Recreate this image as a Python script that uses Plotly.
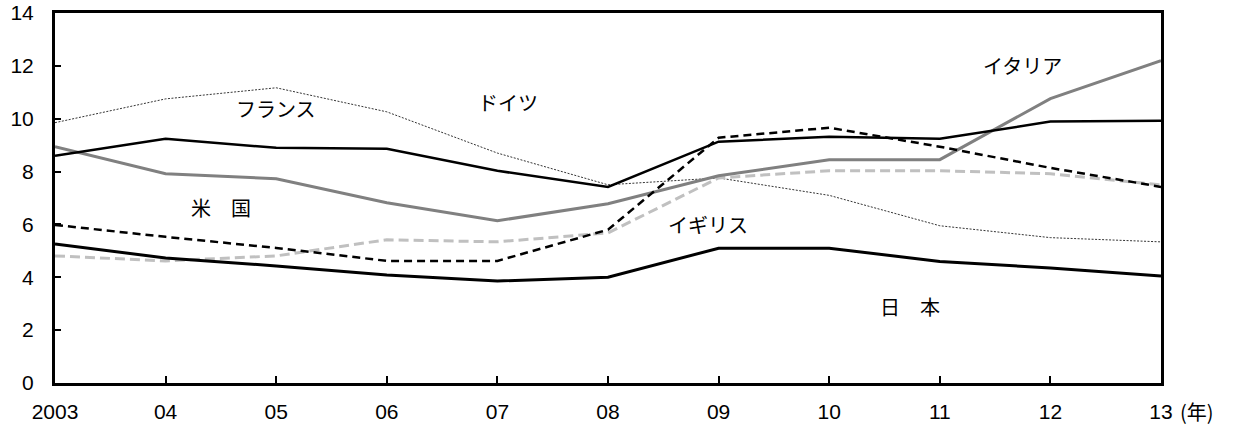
import plotly.graph_objects as go

years = [2003, 2004, 2005, 2006, 2007, 2008, 2009, 2010, 2011, 2012, 2013]
tick_labels = ["2003", "04", "05", "06", "07", "08", "09", "10", "11", "12", "13"]

germany = [9.85, 10.75, 11.17, 10.26, 8.7, 7.5, 7.76, 7.1, 5.95, 5.5, 5.34]
france = [8.6, 9.24, 8.9, 8.86, 8.03, 7.42, 9.13, 9.32, 9.24, 9.89, 9.92]
italy = [8.94, 7.92, 7.73, 6.82, 6.14, 6.78, 7.84, 8.45, 8.45, 10.76, 12.2]
us = [5.98, 5.53, 5.11, 4.62, 4.62, 5.8, 9.28, 9.66, 8.94, 8.14, 7.42]
uk = [4.81, 4.62, 4.81, 5.42, 5.34, 5.68, 7.76, 8.03, 8.03, 7.92, 7.5]
japan = [5.26, 4.73, 4.43, 4.09, 3.86, 4.0, 5.1, 5.1, 4.6, 4.35, 4.05]

# label text and where it sits (data coords)
label_text = ["フランス", "ドイツ", "米　国", "イギリス", "イタリア", "日　本"]
label_x = [2005.0, 2007.1, 2004.5, 2008.9, 2011.75, 2010.73]
label_y = [10.4, 10.6, 6.65, 6.0, 12.0, 2.9]

fig = go.Figure()

fig.add_trace(go.Scatter(x=years, y=germany, mode='lines', name='ドイツ',
                         line=dict(color='black', width=0.8, dash='2px,1.5px')))
fig.add_trace(go.Scatter(x=years, y=uk, mode='lines', name='イギリス',
                         line=dict(color='#c0c0c0', width=3, dash='10px,5px')))
fig.add_trace(go.Scatter(x=years, y=italy, mode='lines', name='イタリア',
                         line=dict(color='#808080', width=3)))
fig.add_trace(go.Scatter(x=years, y=france, mode='lines', name='フランス',
                         line=dict(color='black', width=2.5)))
fig.add_trace(go.Scatter(x=years, y=us, mode='lines', name='米国',
                         line=dict(color='black', width=2.5, dash='8px,5px')))
fig.add_trace(go.Scatter(x=years, y=japan, mode='lines', name='日本',
                         line=dict(color='black', width=3)))

for t, x, y in zip(label_text, label_x, label_y):
    fig.add_annotation(x=x, y=y, text=t, showarrow=False,
                       font=dict(family="Noto Sans CJK JP", size=20, color='black'))

fig.add_annotation(x=1, y=0, xref='paper', yref='paper', text="(年)", showarrow=False,
                   xanchor='left', yanchor='top', xshift=17, yshift=-12,
                   font=dict(family="Noto Sans CJK JP", size=20, color='black'))

fig.update_layout(
    width=1236, height=430,
    margin=dict(l=55, r=75, t=13, b=47),
    plot_bgcolor='white', paper_bgcolor='white',
    showlegend=False,
    font=dict(family="Liberation Sans, Arial", size=21, color='black'),
    xaxis=dict(range=[2003, 2013], tickvals=years, ticktext=tick_labels,
               ticks='inside', ticklen=7, tickwidth=2, tickcolor='black',
               ticklabelstandoff=8, ticklabeloverflow='allow', automargin=False,
               showline=True, linecolor='black', linewidth=3, mirror=True,
               showgrid=False, zeroline=False),
    yaxis=dict(range=[0, 14], dtick=2, ticks='inside', ticklen=6, tickwidth=2,
               tickcolor='black', ticklabelstandoff=14, ticklabeloverflow='allow',
               automargin=False,
               showline=True, linecolor='black', linewidth=3,
               mirror=True, showgrid=False, zeroline=False),
)

# drop the default 8px page margin so the figure sits at the window corner
fig.write_html("out.html", config={'displayModeBar': False},
               post_script="document.body.style.margin='0';")
